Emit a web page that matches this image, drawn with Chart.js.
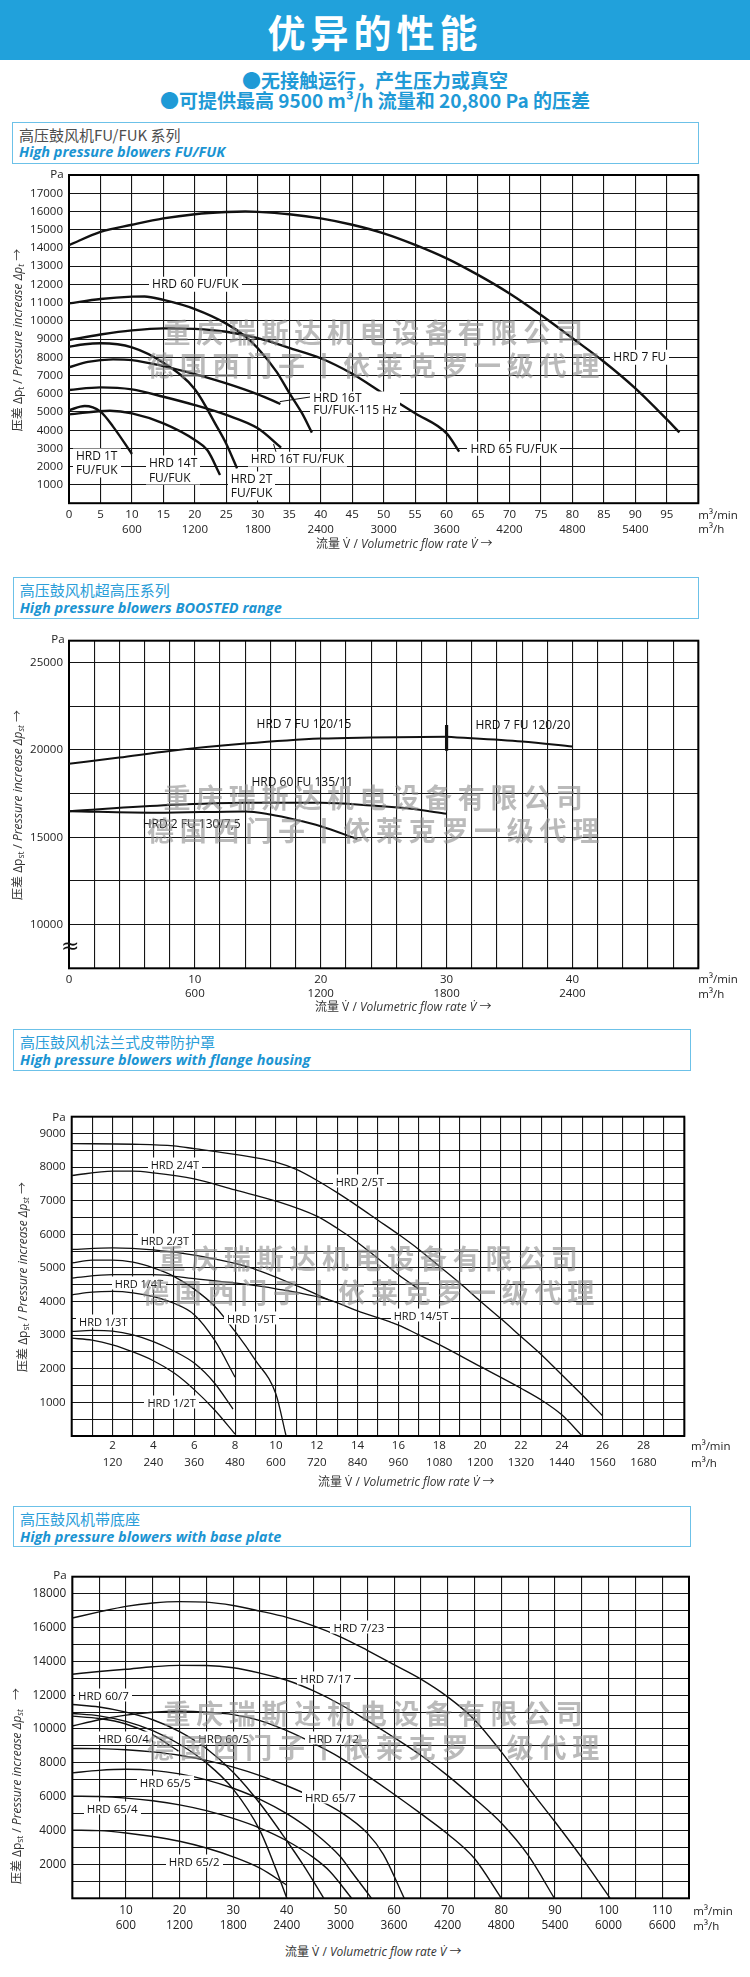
<!DOCTYPE html>
<html lang="zh-CN">
<head>
<meta charset="utf-8">
<title>优异的性能</title>
<script src="https://cdn.jsdelivr.net/npm/chart.js"></script>
<style>
  html, body { margin:0; padding:0; background:#fff; }
  #page { position:relative; width:750px; height:1977px; overflow:hidden; background:#fff;
          font-family:'Open Sans','Noto Sans CJK SC',sans-serif; color:#222; }
  .abs { position:absolute; white-space:nowrap; }
  .band { left:0; top:0; width:750px; height:60px; background:#21a1db; }
  .title { left:0; width:750px; top:8px; height:46px; line-height:46px; text-align:center; color:#fff;
           font-family:'Noto Sans CJK SC',sans-serif; font-weight:700; font-size:38px; letter-spacing:5px; }
  .sub { left:0; width:750px; text-align:center; color:#1f9ad6; font-family:'Noto Sans CJK SC',sans-serif;
         font-weight:700; font-size:19px; height:22px; line-height:22px; }
  .box { position:absolute; border:1.5px solid #6cc1e8; box-sizing:border-box; }
  .box .cn { position:absolute; left:6px; top:3px; font-family:'Noto Sans CJK SC',sans-serif; font-size:15px; line-height:18px; color:#2a9dd8; white-space:nowrap; }
  .box .en { position:absolute; left:6px; top:20.5px; font-family:'Open Sans',sans-serif; font-weight:700; font-style:italic; font-size:14.5px; line-height:18px; color:#1b94d2; white-space:nowrap; }
  canvas { position:absolute; left:0; }
  .note { position:absolute; white-space:pre; background:#fff; padding:0 3px; margin-left:-3px;
          transform:translateY(-50%); color:#111; font-family:'Open Sans',sans-serif; }
  .wm { position:absolute; white-space:nowrap; transform:translate(-50%,-50%); font-family:'Noto Sans CJK SC',sans-serif;
        font-weight:700; font-size:27px; letter-spacing:5.7px; color:rgba(140,140,140,0.6); line-height:30px; }
  .ytitle { position:absolute; white-space:nowrap; transform:translate(-50%,-50%) rotate(-90deg); font-size:12px; color:#333; line-height:14px; }
  .ytitle sub, .xtitle sub { font-size:0.7em; vertical-align:-0.25em; line-height:0; }
  .xtitle { position:absolute; white-space:nowrap; font-size:12px; color:#333; line-height:16px; transform:translateY(-50%); }
  .unit { position:absolute; white-space:nowrap; font-size:11.5px; color:#222; line-height:14px; transform:translateY(-50%); }
  .pa { position:absolute; white-space:nowrap; font-size:11.5px; color:#222; line-height:14px; transform:translate(-50%,-50%); }
</style>
</head>
<body>
<div id="page">
  <div class="abs band"></div>
  <div class="abs title">优异的性能</div>
  <div class="abs sub" style="top:69px">●无接触运行，产生压力或真空</div>
  <div class="abs sub" style="top:89px">●可提供最高 9500 m³/h 流量和 20,800 Pa 的压差</div>

  <div class="box" style="left:12px;top:121.7px;width:687px;height:42.3px">
    <div class="cn" style="color:#4d4d4d">高压鼓风机FU/FUK 系列</div>
    <div class="en">High pressure blowers FU/FUK</div>
  </div>
  <div class="box" style="left:12.7px;top:577.3px;width:686.3px;height:42px">
    <div class="cn">高压鼓风机超高压系列</div>
    <div class="en">High pressure blowers BOOSTED range</div>
  </div>
  <div class="box" style="left:13px;top:1029.3px;width:678px;height:41.4px">
    <div class="cn">高压鼓风机法兰式皮带防护罩</div>
    <div class="en">High pressure blowers with flange housing</div>
  </div>
  <div class="box" style="left:13px;top:1506px;width:678px;height:41.3px">
    <div class="cn">高压鼓风机带底座</div>
    <div class="en">High pressure blowers with base plate</div>
  </div>
</div>
<script>
// ================= DATA =================
// ---- Chart 1: High pressure blowers FU/FUK (x: m³/min, y: Pa)
const c1_HRD_7_FU      = [[0,14150],[5,14880],[10,15270],[15,15620],[20,15850],[25,15970],[28,16000],[30,15980],[35,15850],[40,15620],[45,15270],[50,14800],[55,14170],[60,13430],[65,12520],[70,11500],[75,10320],[80,9050],[85,7760],[90,6300],[95,4600],[97,3880]];
const c1_HRD_60_FU     = [[0,10960],[5,11200],[10,11330],[12,11340],[15,11150],[20,10650],[25,9850],[28,9150],[30,8500],[33,7200],[35,6050],[37,4950],[38.6,3870]];
const c1_HRD_65_FU     = [[0,8950],[5,9250],[10,9480],[15,9590],[20,9560],[25,9400],[30,9050],[35,8520],[40,7950],[45,7100],[50,6000],[55,4930],[60,3830],[62,2830]];
const c1_HRD_16T_115   = [[0,7450],[3,7750],[7,7890],[10,7850],[15,7520],[20,7080],[25,6570],[30,5970],[33.6,5440]];
const c1_HRD_2T        = [[0,8580],[2.5,8720],[5,8770],[10,8550],[15,7700],[20,6250],[23.5,4200],[25,3250],[26.7,1910]];
const c1_HRD_16T       = [[0,6210],[5,6350],[10,6240],[15,5840],[20,5380],[25,4840],[30,4110],[33.7,3050]];
const c1_HRD_14T       = [[0,4870],[6.5,5070],[10,4930],[15,4380],[20,3470],[22,2900],[24,1550]];
const c1_HRD_1T        = [[0,5100],[2.5,5330],[5,5020],[7,4200],[10,2700]];
const c1_leader_a      = [[33.5,5570],[38.6,5840]];
const c1_leader_b      = [[32.5,3250],[33.0,2700]];
const c1_xTickMin      = [0,5,10,15,20,25,30,35,40,45,50,55,60,65,70,75,80,85,90,95];
const c1_xLabelMin     = ['0','5','10','15','20','25','30','35','40','45','50','55','60','65','70','75','80','85','90','95'];
const c1_xLabelH       = ['','','600','','1200','','1800','','2400','','3000','','3600','','4200','','4800','','5400',''];
const c1_yTicks        = [1000,2000,3000,4000,5000,6000,7000,8000,9000,10000,11000,12000,13000,14000,15000,16000,17000];
const c1_yLabels       = ['1000','2000','3000','4000','5000','6000','7000','8000','9000','10000','11000','12000','13000','14000','15000','16000','17000'];
const c1_notes = [
  {t:'HRD 60 FU/FUK', x:13.2, y:12000},
  {t:'HRD 16T\nFU/FUK-115 Hz', x:38.8, y:5450, lh:12.5},
  {t:'HRD 1T\nFU/FUK', x:1.1, y:2230},
  {t:'HRD 14T\nFU/FUK', x:12.7, y:1820},
  {t:'HRD 2T\nFU/FUK', x:25.7, y:970},
  {t:'HRD 16T FU/FUK', x:28.9, y:2410},
  {t:'HRD 7 FU', x:86.5, y:8000},
  {t:'HRD 65 FU/FUK', x:63.8, y:3000}
];

// ---- Chart 2: BOOSTED range
const c2_HRD_7_FU_120_15  = [[0,19200],[4,19560],[8,19940],[14,20360],[20,20650],[24,20710],[30,20750]];
const c2_HRD_7_FU_120_20  = [[30,20750],[36,20480],[40,20190]];
const c2_HRD_60_FU_135_11 = [[0,16490],[8,16840],[14,16970],[20,16970],[24,16820],[27,16650],[30,16340]];
const c2_HRD_2_FU_130_75  = [[0,16490],[7,16400],[14,16480],[16,16300],[18,16000],[20,15630],[22.9,14900]];
const c2_switch_mark      = [[30,19950],[30,21420]];
const c2_xTickMin   = [0,10,20,30,40];
const c2_xLabelMin  = ['0','10','20','30','40'];
const c2_xLabelH    = ['','600','1200','1800','2400'];
const c2_yTicks     = [10000,15000,20000,25000];
const c2_yLabels    = ['10000','15000','20000','25000'];
const c2_notes = [
  {t:'HRD 7 FU 120/15', x:14.9, y:21490},
  {t:'HRD 7 FU 120/20', x:32.3, y:21440},
  {t:'HRD 60 FU 135/11', x:14.5, y:18135},
  {t:'HRD 2 FU 130/7,5', x:5.86, y:15770}
];

// ---- Chart 3: flange housing
const c3_HRD_2_5T  = [[0,8700],[3,8680],[5,8630],[6,8550],[8,8380],[10,8150],[11,7930],[12,7610],[13,7240],[14,6840],[15,6420],[16,6000],[17,5550],[18,5050],[19,4550],[20,4020],[21,3500],[22,2960],[23,2420],[24,1820],[25,1220],[26,600]];
const c3_HRD_2_4T  = [[0,7750],[2,7880],[3,7880],[4,7830],[6,7650],[8,7320],[10,6990],[12,6540],[13,6180],[14,5760],[15,5280],[16,4800],[17,4370]];
const c3_HRD_2_3T  = [[0,5550],[2,5600],[4,5540],[6,5380],[8.7,5020],[11.1,4450],[12.6,4050]];
const c3_HRD_14_5T = [[0,4700],[2,4800],[4,4800],[6,4680],[8,4550],[10,4380],[12.6,4050],[14,3720],[16,3300],[17,3010],[18,2720],[20,2070],[22,1420],[23,1070],[24,630],[25,0]];
const c3_HRD_1_5T  = [[0,5150],[1,5230],[2,5230],[3,5170],[4,5000],[5,4750],[6,4370],[7,3860],[8,3110],[9,2250],[10,1250],[10.5,0]];
const c3_HRD_1_4T  = [[0,4200],[1,4280],[2,4300],[3,4260],[4,4150],[5,3950],[6,3610],[7,2850],[8,1750]];
const c3_HRD_1_3T  = [[0,3110],[1,3140],[2,3120],[3,3010],[4,2810],[5,2530],[6,2170],[7,1570],[7.9,800]];
const c3_HRD_1_2T  = [[0,2910],[1,2850],[2,2710],[3,2500],[4,2240],[5,1880],[6,1380],[7,775],[8,60]];
const c3_xTickMin  = [2,4,6,8,10,12,14,16,18,20,22,24,26,28];
const c3_xLabelMin = ['2','4','6','8','10','12','14','16','18','20','22','24','26','28'];
const c3_xLabelH   = ['120','240','360','480','600','720','840','960','1080','1200','1320','1440','1560','1680'];
const c3_yTicks    = [1000,2000,3000,4000,5000,6000,7000,8000,9000];
const c3_yLabels   = ['1000','2000','3000','4000','5000','6000','7000','8000','9000'];
const c3_notes = [
  {t:'HRD 2/4T', x:3.87, y:8100},
  {t:'HRD 2/5T', x:12.93, y:7590},
  {t:'HRD 2/3T', x:3.38, y:5840},
  {t:'HRD 1/4T', x:2.11, y:4550},
  {t:'HRD 1/3T', x:0.36, y:3430},
  {t:'HRD 1/5T', x:7.61, y:3520},
  {t:'HRD 14/5T', x:15.77, y:3600},
  {t:'HRD 1/2T', x:3.71, y:1000}
];

// ---- Chart 4: base plate
const c4_HRD_7_23 = [[0,16560],[5,16920],[10,17250],[15,17450],[20,17530],[25,17500],[30,17300],[35,16970],[40,16600],[45,16100],[50,15450],[55,14650],[60,13800],[65,12950],[70,11900],[75,10550],[80,8650],[85,6550],[90,4520],[95,2400],[100.3,0]];
const c4_HRD_7_17 = [[0,13240],[5,13400],[10,13530],[15,13680],[20,13760],[25,13750],[30,13620],[35,13300],[40,12880],[45,12250],[50,11450],[55,10500],[60,9500],[65,8450],[70,7250],[75,5900],[80,4450],[85,2550],[89.9,0]];
const c4_HRD_7_12 = [[0,10180],[5,10550],[10,10820],[15,10990],[20,11050],[25,11000],[30,10850],[35,10500],[40,9900],[45,9150],[50,8300],[55,7250],[60,6150],[65,5000],[70,3800],[75,2350],[80,0]];
const c4_HRD_60_7 = [[0,11450],[5,11300],[10,11000],[15,10550],[20,9850],[25,8850],[30,7450],[35,5600],[40,3400],[43,2000],[46.9,0]];
const c4_HRD_60_5 = [[0,10920],[5,10780],[10,10450],[15,9900],[20,9100],[25,8000],[30,6450],[35,4000],[38,1700],[40,0]];
const c4_HRD_60_4 = [[0,10760],[5,10620],[10,10300],[15,9650],[19.8,8700]];
const c4_HRD_65_7 = [[0,8850],[5,8840],[10,8780],[15,8650],[20,8450],[25,8150],[30,7750],[35,7250],[40,6650],[45,5950],[50,5100],[55,3850],[58,2600],[61.9,0]];
const c4_HRD_65_5 = [[0,7410],[5,7560],[10,7620],[15,7560],[20,7350],[25,7000],[30,6500],[35,5850],[40,5000],[45,3900],[50,2450],[52,1600],[55.8,0]];
const c4_HRD_65_4 = [[0,6030],[5,6010],[10,5920],[15,5760],[20,5520],[25,5180],[30,4720],[35,4150],[40,3400],[45,2400],[48,1600],[52.1,0]];
const c4_HRD_65_2 = [[0,4030],[5,4000],[10,3860],[15,3650],[20,3370],[25,2970],[30,2450],[35,1780],[40,780]];
const c4_xTickMin  = [10,20,30,40,50,60,70,80,90,100,110];
const c4_xLabelMin = ['10','20','30','40','50','60','70','80','90','100','110'];
const c4_xLabelH   = ['600','1200','1800','2400','3000','3600','4200','4800','5400','6000','6600'];
const c4_yTicks    = [2000,4000,6000,8000,10000,12000,14000,16000,18000];
const c4_yLabels   = ['2000','4000','6000','8000','10000','12000','14000','16000','18000'];
const c4_notes = [
  {t:'HRD 7/23', x:48.7, y:16000},
  {t:'HRD 7/17', x:42.5, y:13000},
  {t:'HRD 60/7', x:1.06, y:12000},
  {t:'HRD 60/4', x:4.8, y:9500},
  {t:'HRD 60/5', x:23.5, y:9500},
  {t:'HRD 7/12', x:44.0, y:9500},
  {t:'HRD 65/5', x:12.6, y:6850},
  {t:'HRD 65/7', x:43.4, y:6000},
  {t:'HRD 65/4', x:2.7, y:5350},
  {t:'HRD 65/2', x:18.0, y:2200}
];

// ================= BUILD =================
const page = document.getElementById('page');
function range(a, b, s) { const r = []; for (let v = a; v <= b + 1e-9; v += s) r.push(Math.round(v * 100) / 100); return r; }

const framePlugin = {
  id: 'frame',
  beforeDatasetsDraw(chart, args, opts) {
    const a = chart.chartArea, ctx = chart.ctx;
    ctx.save();
    ctx.strokeStyle = '#000';
    ctx.lineWidth = opts.width || 2;
    ctx.strokeRect(a.left, a.top, a.right - a.left, a.bottom - a.top);
    ctx.restore();
  }
};

function el(cls, html, style) {
  const d = document.createElement('div');
  d.className = cls; d.innerHTML = html;
  Object.assign(d.style, style);
  page.appendChild(d);
  return d;
}

function buildChart(spec) {
  const cv = document.createElement('canvas');
  cv.width = 750; cv.height = spec.canvasH;
  cv.style.top = spec.canvasTop + 'px';
  cv.style.width = '750px'; cv.style.height = spec.canvasH + 'px';
  page.appendChild(cv);
  const p = spec.plot;
  const tickFont = { family: "'Open Sans', sans-serif", size: spec.tickSize, lineHeight: spec.tickLH };
  const xs = spec.x, ys = spec.y;
  const chart = new Chart(cv.getContext('2d'), {
    type: 'line',
    data: { datasets: spec.series.map(s => ({
      data: s.pts.map(([x, y]) => ({ x, y })),
      borderColor: '#111', borderWidth: s.w || spec.lineW, pointRadius: 0, fill: false,
      cubicInterpolationMode: s.straight ? 'default' : 'monotone', tension: 0,
      borderCapStyle: 'butt'
    })) },
    options: {
      responsive: false, animation: false, events: [],
      layout: { padding: { left: 0, top: p.top - spec.canvasTop, right: 750 - p.right, bottom: 0 } },
      plugins: { legend: { display: false }, tooltip: { enabled: false }, frame: { width: 2 } },
      scales: {
        x: {
          type: 'linear', min: xs.min, max: xs.max,
          afterBuildTicks: (s) => { s.ticks = range(xs.min, xs.max, xs.step).map(v => ({ value: v })); },
          afterFit: (s) => { s.height = spec.canvasTop + spec.canvasH - p.bottom; },
          grid: { color: '#151515', lineWidth: spec.gridW, drawTicks: false },
          border: { display: false },
          ticks: { autoSkip: false, maxRotation: 0, minRotation: 0, padding: xs.pad, color: '#222', font: tickFont,
            callback: (v) => { const i = xs.at.indexOf(v); if (i < 0) return ''; return xs.h[i] ? [xs.lab[i], xs.h[i]] : xs.lab[i]; } }
        },
        y: {
          type: 'linear', min: ys.min, max: ys.max,
          afterBuildTicks: (s) => { s.ticks = range(ys.min, ys.gridMax, ys.step).map(v => ({ value: v })); },
          afterFit: (s) => { s.width = p.left; },
          grid: { color: '#151515', lineWidth: spec.gridW, drawTicks: false },
          border: { display: false },
          ticks: { autoSkip: false, padding: 6, color: '#222', font: { family: "'Open Sans', sans-serif", size: spec.tickSize },
            callback: (v) => { const i = ys.at.indexOf(v); return i < 0 ? '' : ys.lab[i]; } }
        }
      }
    },
    plugins: [framePlugin]
  });

  // curve labels placed through the chart's own scales
  spec.notes.forEach(n => {
    const d = document.createElement('div');
    d.className = 'note';
    d.textContent = n.t;
    d.style.left = chart.scales.x.getPixelForValue(n.x) + 'px';
    d.style.top = (spec.canvasTop + chart.scales.y.getPixelForValue(n.y)) + 'px';
    d.style.fontSize = spec.noteSize + 'px';
    d.style.lineHeight = (n.lh || spec.noteLH) + 'px';
    if (spec.noteBg === false) d.style.background = 'transparent';
    page.appendChild(d);
  });
  return chart;
}

// Chart 1
buildChart({
  canvasTop: 155, canvasH: 390,
  plot: { left: 69, top: 175, right: 698.3, bottom: 503.2 },
  tickSize: 11.5, tickLH: 1.25, lineW: 2.4, gridW: 1.1, noteSize: 12, noteLH: 14.5,
  x: { min: 0, max: 100, step: 5, pad: 4.6, at: c1_xTickMin, lab: c1_xLabelMin, h: c1_xLabelH },
  y: { min: 0, max: 18000, gridMax: 18000, step: 1000, at: c1_yTicks, lab: c1_yLabels },
  series: [
    { pts: c1_HRD_7_FU }, { pts: c1_HRD_60_FU }, { pts: c1_HRD_65_FU }, { pts: c1_HRD_16T_115 },
    { pts: c1_HRD_2T }, { pts: c1_HRD_16T }, { pts: c1_HRD_14T }, { pts: c1_HRD_1T },
    { pts: c1_leader_a, w: 1, straight: true }, { pts: c1_leader_b, w: 1, straight: true }
  ],
  notes: c1_notes
});

// Chart 2
buildChart({
  canvasTop: 620, canvasH: 390,
  plot: { left: 69, top: 640.7, right: 698.3, bottom: 968.3 },
  tickSize: 11.5, tickLH: 1.28, lineW: 2.0, gridW: 1.1, noteSize: 12, noteLH: 14.5, noteBg: false,
  x: { min: 0, max: 50, step: 2, pad: 3.7, at: c2_xTickMin, lab: c2_xLabelMin, h: c2_xLabelH },
  y: { min: 7500, max: 26250, gridMax: 25000, step: 2500, at: c2_yTicks, lab: c2_yLabels },
  series: [
    { pts: c2_HRD_7_FU_120_15 }, { pts: c2_HRD_7_FU_120_20 }, { pts: c2_HRD_60_FU_135_11 }, { pts: c2_HRD_2_FU_130_75 },
    { pts: c2_switch_mark, w: 3.2, straight: true }
  ],
  notes: c2_notes
});

// Chart 3
buildChart({
  canvasTop: 1095, canvasH: 380,
  plot: { left: 71.7, top: 1116.7, right: 684.3, bottom: 1436 },
  tickSize: 11.5, tickLH: 1.45, lineW: 1.3, gridW: 1.1, noteSize: 11, noteLH: 13,
  x: { min: 0, max: 30, step: 1, pad: 1.7, at: c3_xTickMin, lab: c3_xLabelMin, h: c3_xLabelH },
  y: { min: 0, max: 9500, gridMax: 9500, step: 500, at: c3_yTicks, lab: c3_yLabels },
  series: [
    { pts: c3_HRD_2_5T }, { pts: c3_HRD_2_4T }, { pts: c3_HRD_2_3T }, { pts: c3_HRD_14_5T },
    { pts: c3_HRD_1_5T }, { pts: c3_HRD_1_4T }, { pts: c3_HRD_1_3T }, { pts: c3_HRD_1_2T }
  ],
  notes: c3_notes
});

// Chart 4
buildChart({
  canvasTop: 1555, canvasH: 385,
  plot: { left: 72.3, top: 1576.7, right: 689, bottom: 1898.3 },
  tickSize: 11.8, tickLH: 1.3, lineW: 1.4, gridW: 1.1, noteSize: 11.5, noteLH: 13,
  x: { min: 0, max: 115, step: 5, pad: 4.7, at: c4_xTickMin, lab: c4_xLabelMin, h: c4_xLabelH },
  y: { min: 0, max: 19000, gridMax: 19000, step: 1000, at: c4_yTicks, lab: c4_yLabels },
  series: [
    { pts: c4_HRD_7_23 }, { pts: c4_HRD_7_17 }, { pts: c4_HRD_7_12 }, { pts: c4_HRD_60_7 }, { pts: c4_HRD_60_5 },
    { pts: c4_HRD_60_4 }, { pts: c4_HRD_65_7 }, { pts: c4_HRD_65_5 }, { pts: c4_HRD_65_4 }, { pts: c4_HRD_65_2 }
  ],
  notes: c4_notes
});

// ---- axis titles, units, "Pa", watermark
const yT1 = '压差 Δp<sub>t</sub> / <i>Pressure increase Δp<sub>t</sub></i> →';
const yTst = '压差 Δp<sub>st</sub> / <i>Pressure increase Δp<sub>st</sub></i> →';
const xT = '流量 V̇ / <i>Volumetric flow rate V̇</i> →';
el('ytitle', yT1, { left: '18px', top: '340px' });
el('ytitle', yTst, { left: '18px', top: '805px' });
el('ytitle', yTst, { left: '23px', top: '1277px' });
el('ytitle', '压差 Δp<sub>st</sub> / <i>Pressure increase Δp<sub>st</sub></i> &nbsp;&nbsp;→', { left: '17px', top: '1786px' });

el('xtitle', xT, { left: '316px', top: '544.3px' });
el('xtitle', xT, { left: '315px', top: '1006.7px' });
el('xtitle', xT, { left: '318px', top: '1481.7px' });
el('xtitle', xT, { left: '285px', top: '1951.7px' });

[[698.3, 515, 529.3], [698.3, 979.3, 994], [691, 1446, 1462.7], [693.3, 1910.7, 1925.7]].forEach(([x, y1, y2]) => {
  el('unit', 'm³/min', { left: x + 'px', top: y1 + 'px' });
  el('unit', 'm³/h', { left: x + 'px', top: y2 + 'px' });
});
[[57, 174], [58, 639], [59, 1117], [60, 1575]].forEach(([x, y]) => el('pa', 'Pa', { left: x + 'px', top: y + 'px' }));

el('abs', '≈', { left: '61px', top: '934px', fontSize: '22px', lineHeight: '24px', color: '#111', fontFamily: "'DejaVu Sans',sans-serif" });

[[376, 331.7, 365], [376, 796.7, 830], [371, 1258.3, 1291.7], [376, 1713.3, 1746.7]].forEach(([x, y1, y2]) => {
  el('wm', '重庆瑞斯达机电设备有限公司', { left: x + 'px', top: y1 + 'px' });
  el('wm', '德国西门子丨依莱克罗一级代理', { left: x + 'px', top: y2 + 'px' });
});
</script>
</body>
</html>
